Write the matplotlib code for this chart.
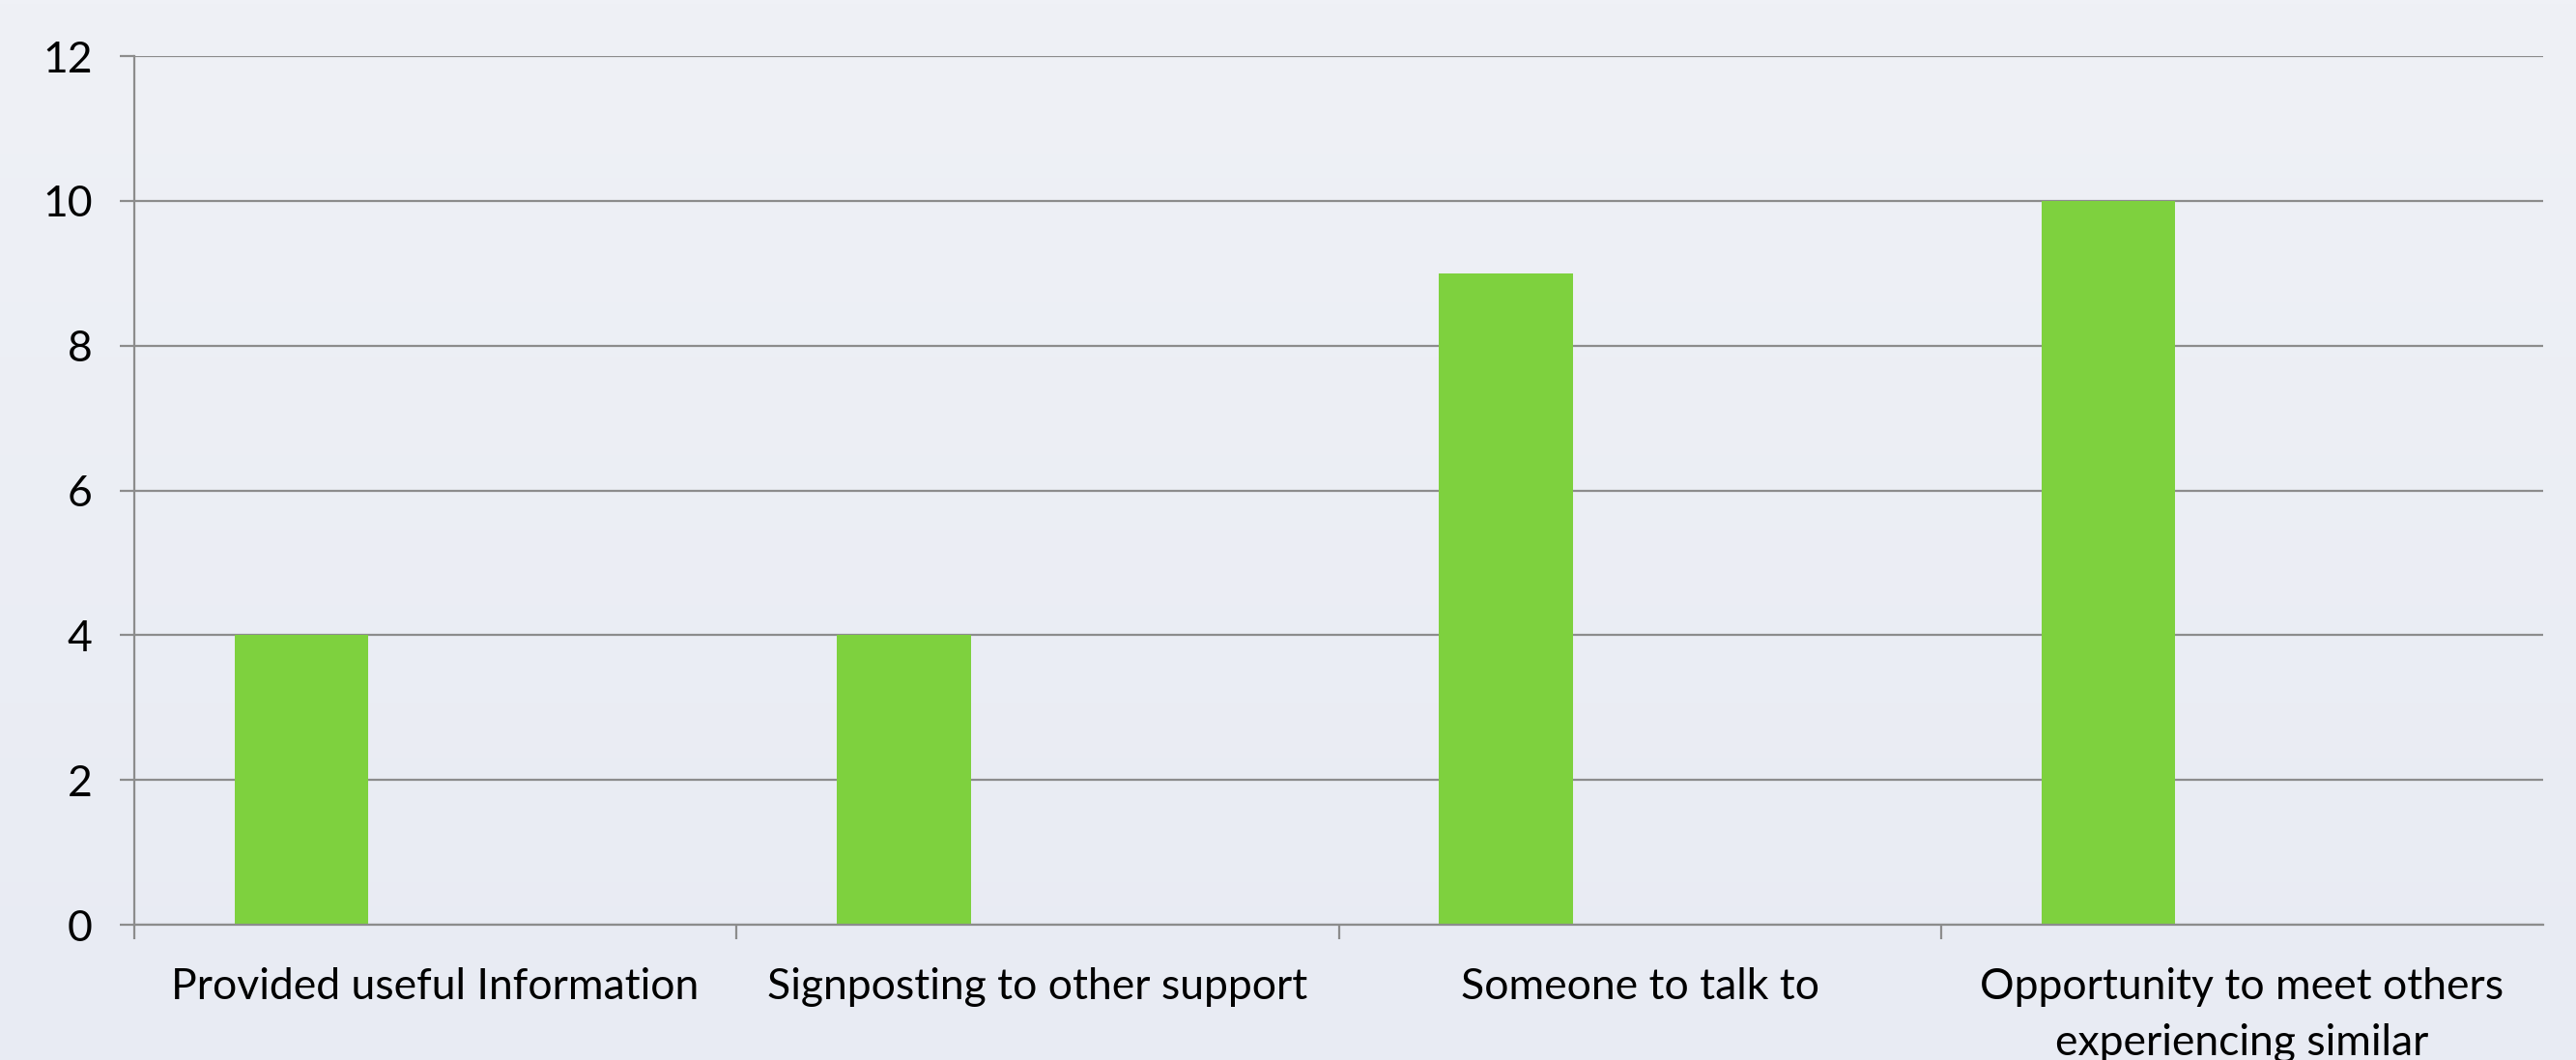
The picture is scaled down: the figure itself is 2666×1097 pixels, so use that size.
import matplotlib
matplotlib.use("Agg")
import matplotlib.pyplot as plt
import numpy as np

# data
categories = ["Provided useful Information", "Signposting to other support",
              "Someone to talk to", "Opportunity to meet others\nexperiencing similar"]
values = [4, 4, 9, 10]
yticks = [0, 2, 4, 6, 8, 10, 12]

plt.rcParams['font.family'] = ['Lato', 'DejaVu Sans']

fig = plt.figure(figsize=(26.66, 10.97), dpi=100)

# soft vertical gradient behind everything
bg = fig.add_axes([0, 0, 1, 1], zorder=-10)
grad = np.linspace(0, 1, 256).reshape(-1, 1)
top = np.array([0xEF, 0xF1, 0xF6]) / 255
bot = np.array([0xE8, 0xEB, 0xF3]) / 255
img = top + (bot - top) * grad[:, :, None]
bg.imshow(img, aspect='auto', extent=[0, 1, 0, 1])
bg.axis('off')

ax = fig.add_axes([0.0521, 0.1276, 0.9352, 0.8195])
ax.patch.set_alpha(0)

# excel-style clustered bar: 3 series slots, gap width 150%, first slot only
n = len(categories)
bar_w = 1 / 4.5
x = np.arange(n) + 0.75 / 4.5 + bar_w / 2
ax.bar(x, values, width=bar_w, color='#7ED13E', zorder=3)

ax.set_xlim(0, n)
ax.set_ylim(0, 12)
ax.set_yticks(yticks)
ax.set_yticklabels([str(v) for v in yticks])

grid_c = '#8C8C8C'
ax.yaxis.grid(True, color=grid_c, linewidth=1.6, zorder=1)
ax.set_axisbelow(True)

for s in ['top', 'right']:
    ax.spines[s].set_visible(False)
for s in ['left', 'bottom']:
    ax.spines[s].set_color(grid_c)
    ax.spines[s].set_linewidth(1.6)
    ax.spines[s].set_zorder(4)

ax.set_xticks(np.arange(n))
ax.set_xticklabels([])
ax.set_xticks(np.arange(n) + 0.5, minor=True)
ax.set_xticklabels(categories, minor=True, fontsize=32, linespacing=1.5)
ax.tick_params(axis='x', which='major', length=11, width=1.6, color=grid_c)
ax.tick_params(axis='x', which='minor', length=0, pad=32)
ax.tick_params(axis='y', length=11, width=1.6, color=grid_c, labelsize=32, pad=20)

fig.savefig("out.png", dpi=100)
